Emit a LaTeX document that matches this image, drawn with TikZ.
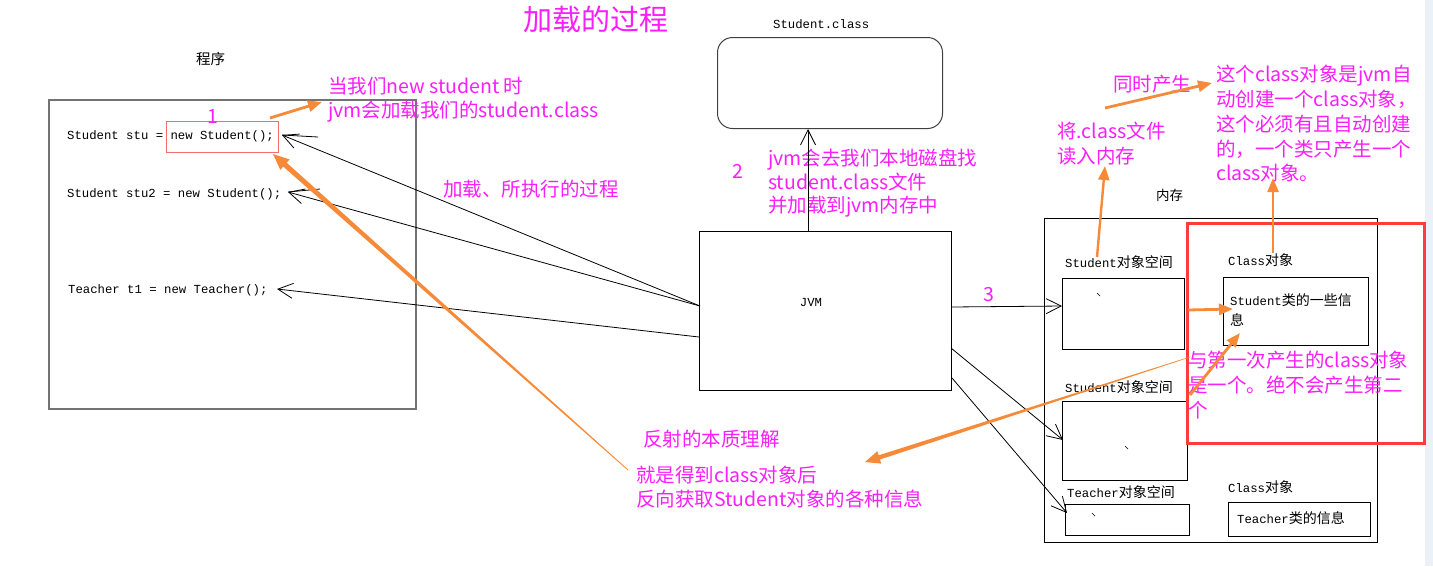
\documentclass[tikz,border=0pt]{standalone}
\usepackage{fontspec}
\setmainfont{Liberation Sans}
\newfontfamily\cjk{Noto Sans CJK SC}
\newfontfamily\mono{Liberation Mono}
\usetikzlibrary{arrows.meta,calc}
\definecolor{mag}{RGB}{250,30,250}
\definecolor{org}{RGB}{247,138,56}
\definecolor{redb}{RGB}{255,60,60}
\definecolor{redl}{RGB}{240,110,110}
\definecolor{strip}{RGB}{236,240,247}
\newcommand\codet[1]{{\mono\fontsize{12.3}{14}\selectfont #1}}
\newcommand\cjt[1]{{\cjk\fontsize{14}{16}\selectfont #1}}
\newcommand\taperarrow[7]{%
  \coordinate (#7b) at ($(#2)!#5!(#1)$);
  \fill[org] ($(#1)!#3!90:(#2)$) -- ($(#7b)!#4!-90:(#1)$) -- ($(#7b)!#6!-90:(#1)$) -- (#2)
    -- ($(#7b)!#6!90:(#1)$) -- ($(#7b)!#4!90:(#1)$) -- ($(#1)!#3!-90:(#2)$) -- cycle;}
\tikzset{
  lbl/.style={inner sep=0pt, anchor=base west},
  note/.style={lbl, text=mag, font=\cjk\fontsize{19.5}{24}\selectfont},
  code/.style={lbl, font=\mono\fontsize{12.3}{14}\selectfont},
  blk/.style={lbl, font=\cjk\fontsize{14}{16}\selectfont},
  frame/.style={draw, line width=0.8pt, inner sep=0pt, anchor=north west},
  conn/.style={draw=black, line width=0.8pt, -{Straight Barb[length=15pt,width=15pt,line width=0.8pt]}},
  orarr/.style={draw=org, line width=2.8pt, -{Triangle[length=14pt,width=11pt]}},
}
\begin{document}
\begin{tikzpicture}[x=1pt,y=-1pt]
\useasboundingbox (0,0) rectangle (1433,566);
\fill[white] (0,0) rectangle (1433,566);
\fill[strip] (1425,0) rectangle (1433,566);

% title
\node[note, font=\cjk\fontsize{29}{32}\selectfont] (title) at (523,30) {加载的过程};

% program
\node[blk, font=\cjk\fontsize{14.5}{16}\selectfont] (progl) at (196,64) {程序};
\node[frame, draw=black!55, line width=1.5pt, minimum width=367pt, minimum height=309pt] (prog) at (48,99) {};
\node[code] (c1) at (67,139) {Student stu = new Student();};
\node[code] (c2) at (67,197) {Student stu2 = new Student();};
\node[code] (c3) at (68,293) {Teacher t1 = new Teacher();};
\node[frame, draw=redl, line width=1pt, minimum width=112pt, minimum height=31pt] (rb) at (166,121) {};
\node[note] (one) at (207,123) {1};
\node[note] (n1a) at (328,93) {当我们new student 时};
\node[note] (n1b) at (328,117) {jvm会加载我们的student.class};
\node[note] (load) at (443,196) {加载、所执行的过程};

% Student.class
\node[code] (clsl) at (773,28) {Student.class};
\node[frame, rounded corners=15pt, line width=1pt, draw=black!75, minimum width=225pt, minimum height=91pt] (cls) at (717,37) {};
\node[note] (two) at (732,178) {2};
\node[note] (n2a) at (768,165) {jvm会去我们本地磁盘找};
\node[note] (n2b) at (768,189) {student.class文件};
\node[note] (n2c) at (768,212) {并加载到jvm内存中};

% JVM
\node[frame, minimum width=252pt, minimum height=159pt] (jvm) at (699,231) {};
\node[code, anchor=center] (jvml) at (811,303) {JVM};
\node[note] (three) at (983,301) {3};

% reflection notes
\node[note] (r1) at (643,446) {反射的本质理解};
\node[note] (r2) at (636,482) {就是得到class对象后};
\node[note] (r3) at (636,506) {反向获取Student对象的各种信息};

% memory
\node[blk, font=\cjk\fontsize{13.5}{16}\selectfont] (meml) at (1156,200) {内存};
\node[frame, minimum width=333pt, minimum height=324pt] (mem) at (1044,218) {};
\node[lbl] (s1l) at (1065,267) {\codet{Student}\cjt{对象空间}};
\node[frame, minimum width=122pt, minimum height=71pt] (sp1) at (1062,278) {};
\node[lbl] (s2l) at (1065,392) {\codet{Student}\cjt{对象空间}};
\node[frame, minimum width=125pt, minimum height=79pt] (sp2) at (1062,401) {};
\node[lbl] (s3l) at (1067,497) {\codet{Teacher}\cjt{对象空间}};
\node[frame, minimum width=124pt, minimum height=31pt] (sp3) at (1065,504) {};
\draw[line width=0.7pt] (1097,293) -- (1100,296) (1125,446) -- (1128,449) (1092,513) -- (1095,516);

\node[lbl] (c1l) at (1228,265) {\codet{Class}\cjt{对象}};
\node[frame, minimum width=145pt, minimum height=68pt] (cb1) at (1223,277) {};
\node[lbl] (cb1a) at (1230,305) {\codet{Student}\cjt{类的一些信}};
\node[lbl] (cb1b) at (1230,325) {\cjt{息}};
\node[lbl] (c2l) at (1228,492) {\codet{Class}\cjt{对象}};
\node[frame, minimum width=142pt, minimum height=34pt] (cb2) at (1228,502) {};
\node[lbl] (cb2a) at (1237,523) {\codet{Teacher}\cjt{类的信息}};

% right notes
\node[note] (ts) at (1113,91) {同时产生};
\node[note] (jg1) at (1057,138) {将.class文件};
\node[note] (jg2) at (1057,163) {读入内存};
\node[note] (k1) at (1216,81) {这个class对象是jvm自};
\node[note] (k2) at (1216,106) {动创建一个class对象，};
\node[note] (k3) at (1216,131) {这个必须有且自动创建};
\node[note] (k4) at (1216,156) {的，一个类只产生一个};
\node[note] (k5) at (1216,180) {class对象。};
\node[note] (f1) at (1188,367) {与第一次产生的class对象};
\node[note] (f2) at (1188,392) {是一个。绝不会产生第二};
\node[note] (f3) at (1188,417) {个};

\node[frame, draw=redb, line width=3.2pt, minimum width=237pt, minimum height=220pt] (bigred) at (1186,222) {};

% black connectors
\coordinate (j1) at (700,306);
\coordinate (j2) at (699,337);
\coordinate (jt) at (808,231);
\coordinate (jr) at (951,307);
\coordinate (jl1) at (951,348);
\coordinate (jl2) at (952,378);
\coordinate (t1) at (282,135);
\coordinate (t2) at (288,192);
\coordinate (t3) at (277,289);
\coordinate (tc) at (808,129);
\coordinate (tr) at (1062,306);
\coordinate (tl1) at (1063,440);
\coordinate (tl2) at (1067,513);
\draw[conn] (j1) -- (t1);
\draw[conn] (j1) -- (t2);
\draw[conn] (j2) -- (t3);
\draw[conn] (jt) -- (tc);
\draw[conn] (jr) -- (tr);
\draw[conn] (jl1) -- (tl1);
\draw[conn] (jl2) -- (tl2);
% stray hand-drawn strokes beside the heads
\draw[line width=0.8pt] (t1) -- ++(36,2);
\draw[line width=0.8pt] (t2) -- ++(32,-3);

% orange connectors
\coordinate (o1s) at (270,118);  \coordinate (o1e) at (322,102);
\coordinate (o2s) at (628,470);  \coordinate (o2e) at (273,154);
\coordinate (o3s) at (1097,257); \coordinate (o3e) at (1105,166);
\coordinate (o4s) at (1105,108); \coordinate (o4e) at (1212,83);
\coordinate (o5s) at (1273,253); \coordinate (o5e) at (1273,178);
\coordinate (o6s) at (1188,310); \coordinate (o6e) at (1233,309);
\coordinate (o7s) at (1190,395); \coordinate (o7e) at (1240,333);
\coordinate (o8s) at (1190,357); \coordinate (o8e) at (865,462);
\draw[orarr] (o1s) -- (o1e);
\draw[orarr, line width=2.4pt] (o3s) -- (o3e);
\draw[orarr] (o4s) -- (o4e);
\draw[orarr, line width=2.4pt] (o5s) -- (o5e);
\draw[orarr] (o6s) -- (o6e);
\draw[orarr] (o7s) -- (o7e);
\taperarrow{o2s}{o2e}{0.4pt}{2.6pt}{16pt}{7pt}{o2}
\taperarrow{o8s}{o8e}{0.3pt}{2.2pt}{15pt}{6.5pt}{o8}
\end{tikzpicture}
\end{document}
